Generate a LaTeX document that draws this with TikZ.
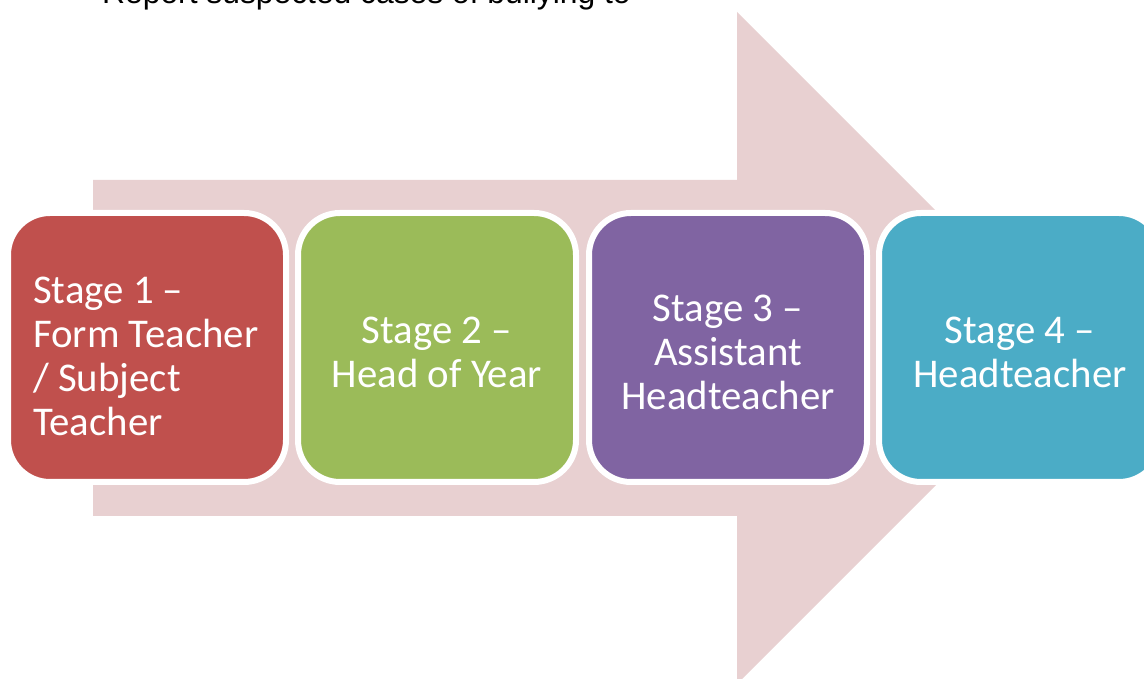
\documentclass[tikz,border=0pt]{standalone}
\usepackage{fontspec}
\setmainfont{Carlito}
\newfontfamily\arialfont{Liberation Sans}
\definecolor{arrowpink}{HTML}{E8D0D1}
\definecolor{stagered}{HTML}{C0504D}
\definecolor{stagegreen}{HTML}{9BBB59}
\definecolor{stagepurple}{HTML}{8064A2}
\definecolor{stageteal}{HTML}{4BACC6}
\begin{document}
\begin{tikzpicture}[x=1pt,y=1pt,
  stagebox/.style={draw=white, line width=6pt, rounded corners=42pt,
    minimum width=278pt, minimum height=269pt, inner sep=0pt, outer sep=0pt, anchor=north west},
  stagetext/.style={text=white, font=\fontsize{40.8}{44}\selectfont, align=center, inner sep=0pt},
  titletext/.style={font=\arialfont\fontsize{31.8}{38}\selectfont, text=black, inner sep=0pt, anchor=base west}
]
\useasboundingbox (0,0) rectangle (1144,679);
\clip (0,0) rectangle (1144,679);
% big arrow
\fill[arrowpink] (93,499) -- (737,499) -- (737,667) -- (1073,331) -- (737,-5) -- (737,163) -- (93,163) -- cycle;
% title
\node[titletext] (title) at (102,675) {Report suspected cases of bullying to};
% boxes
\node[stagebox, fill=stagered] (s1) at (8,466) {};
\node[stagebox, fill=stagegreen] (s2) at (298,466) {};
\node[stagebox, fill=stagepurple] (s3) at (589,466) {};
\node[stagebox, fill=stageteal, minimum width=282pt] (s4) at (879,466) {};
% texts
\node[stagetext, align=left, anchor=west] (t1) at (33,323) {Stage 1 –\\Form Teacher\\/ Subject\\Teacher};
\node[stagetext] (t2) at ([yshift=-5pt]s2.center) {Stage 2 –\\Head of Year};
\node[stagetext] (t3) at ([yshift=-5pt]s3.center) {Stage 3 –\\Assistant\\Headteacher};
\node[stagetext] (t4) at ([yshift=-5pt]s4.center) {Stage 4 –\\Headteacher};
\end{tikzpicture}
\end{document}
